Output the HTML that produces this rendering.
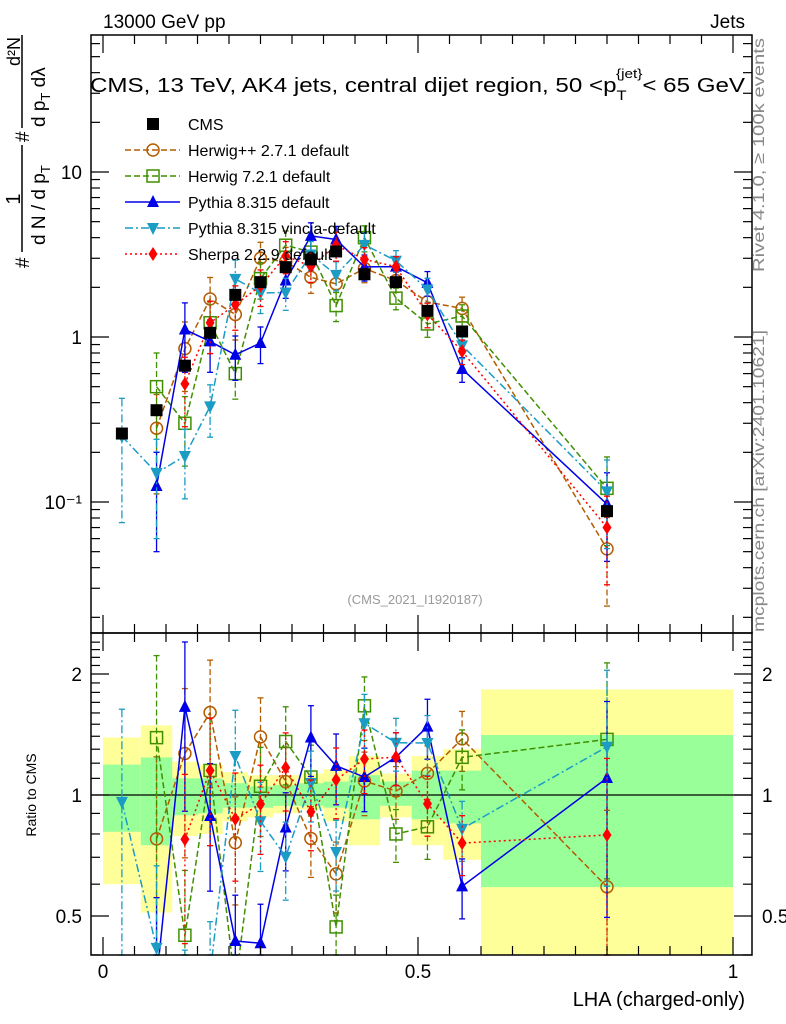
<!DOCTYPE html>
<html><head><meta charset="utf-8">
<style>
body{margin:0;background:#fff;}
svg{display:block;font-family:"Liberation Sans",sans-serif;}
</style></head>
<body>
<svg id="chart" width="786" height="1024" viewBox="0 0 786 1024">
<text x="103" y="28" font-size="19">13000 GeV pp</text>
<text x="745" y="28" font-size="19" text-anchor="end">Jets</text>
<g id="ratioBands"></g>
<g id="plot"></g>
<rect x="91" y="35" width="661" height="598" fill="none" stroke="#000" stroke-width="1.5"/>
<rect x="91" y="633" width="661" height="322" fill="none" stroke="#000" stroke-width="1.5"/>
<g id="axes"></g>
<text x="90" y="92" font-size="20.5" textLength="655" lengthAdjust="spacingAndGlyphs">CMS, 13 TeV, AK4 jets, central dijet region, 50 &lt;p<tspan font-size="14" dy="8">T</tspan><tspan font-size="13" dy="-22" dx="-9">{jet}</tspan><tspan dy="14">&lt; 65 GeV</tspan></text>
<text x="415" y="604" font-size="13" fill="#999" text-anchor="middle">(CMS_2021_I1920187)</text>
<text transform="translate(764,155) rotate(-90)" font-size="16" fill="#888" text-anchor="middle" textLength="234" lengthAdjust="spacingAndGlyphs">Rivet 4.1.0, ≥ 100k events</text>
<text transform="translate(764,481) rotate(-90)" font-size="16" fill="#888" text-anchor="middle" textLength="302" lengthAdjust="spacingAndGlyphs">mcplots.cern.ch [arXiv:2401.10621]</text>
<g transform="rotate(-90)">
<text x="-268" y="29" font-size="19">#</text>
<text x="-199" y="20" font-size="20" text-anchor="middle">1</text>
<line x1="-252" y1="22" x2="-145" y2="22" stroke="#000" stroke-width="1.5"/>
<text x="-245" y="45" font-size="19">d N / d p<tspan font-size="13" dy="5">T</tspan></text>
<text x="-142" y="29" font-size="19">#</text>
<text x="-66" y="20" font-size="18">d²N</text>
<line x1="-128" y1="22" x2="-35" y2="22" stroke="#000" stroke-width="1.5"/>
<text x="-127" y="45" font-size="19">d p<tspan font-size="13" dy="5">T</tspan><tspan dy="-5"> dλ</tspan></text>
</g>
<text transform="translate(36,795) rotate(-90)" font-size="14" text-anchor="middle">Ratio to CMS</text>
<text x="745" y="1006" font-size="20" text-anchor="end">LHA (charged-only)</text>
<g id="legend"></g>
</svg>
<script>
const xCenters=[0.03,0.085,0.13,0.17,0.21,0.25,0.29,0.33,0.37,0.415,0.465,0.515,0.57,0.8];
const binEdges=[0,0.06,0.11,0.15,0.19,0.23,0.27,0.31,0.35,0.39,0.44,0.49,0.54,0.6,1.0];
const cmsValues=[0.26,0.36,0.67,1.06,1.8,2.15,2.65,2.95,3.3,2.4,2.15,1.44,1.08,0.088];
const herwigppValues=[null,0.28,0.85,1.7,1.37,3.0,2.86,2.3,2.1,2.6,2.2,1.63,1.49,0.052];
const herwig7Values=[null,0.50,0.30,1.22,0.60,2.26,3.6,3.27,1.55,4.0,1.72,1.2,1.34,0.121];
const pythiaValues=[null,0.125,1.11,0.94,0.78,0.92,2.2,4.1,3.9,2.66,2.67,2.13,0.64,0.097];
const vinciaValues=[0.25,0.15,0.19,0.38,2.25,1.85,1.86,3.16,2.38,3.62,2.9,1.94,0.89,0.116];
const sherpaValues=[null,null,0.52,1.22,1.57,2.04,3.1,2.68,3.6,2.95,2.67,1.37,0.82,0.07];
const mcRelErr=[0.7,0.6,0.45,0.35,0.3,0.25,0.22,0.2,0.2,0.18,0.15,0.17,0.17,0.55];
const totUp=[1.39,1.49,1.21,1.19,1.14,1.12,1.12,1.13,1.16,1.25,1.13,1.25,1.30,1.83];
const totDn=[0.60,0.51,0.79,0.80,0.86,0.88,0.90,0.92,0.86,0.75,0.88,0.75,0.69,0.30];
const statUp=[1.19,1.24,1.10,1.10,1.07,1.05,1.06,1.07,1.08,1.12,1.08,1.15,1.15,1.41];
const statDn=[0.81,0.75,0.89,0.90,0.93,0.93,0.94,0.94,0.93,0.87,0.94,0.87,0.85,0.59];
const yTickLabels=["10⁻¹","1","10"];
const xTickLabels=["0","0.5","1"];
const ratioTickLabels=["0.5","1","2"];

const NS="http://www.w3.org/2000/svg";
const X0=103,XS=630;
const xs=v=>X0+v*XS;
const ym=v=>337-Math.log10(v)*165;
const yr=v=>795-Math.log10(v)*402;
const clampM=y=>Math.min(633,Math.max(35,y));
const clampR=y=>Math.min(955,Math.max(633,y));
function mk(tag,attrs,parent){const e=document.createElementNS(NS,tag);for(const k in attrs)e.setAttribute(k,attrs[k]);parent.appendChild(e);return e;}
const plot=document.getElementById('plot');
const bands=document.getElementById('ratioBands');
const axes=document.getElementById('axes');
const legend=document.getElementById('legend');

for(let i=0;i<xCenters.length;i++){
 const x1=xs(binEdges[i]),x2=xs(binEdges[i+1]);
 const y1=clampR(yr(totUp[i])),y2=clampR(yr(totDn[i]));
 const r=mk('rect',{x:x1,y:y1,width:x2-x1,height:y2-y1,fill:'#ffff99'},bands);
 
 
 const g1=clampR(yr(statUp[i])),g2=clampR(yr(statDn[i]));
 const r2=mk('rect',{x:x1,y:g1,width:x2-x1,height:g2-g1,fill:'#99ff99'},bands);
 
 
}
mk('line',{x1:91,x2:752,y1:yr(1),y2:yr(1),stroke:'#000','stroke-width':1.3},bands);

function marker(g,type,x,y,color){
 if(type==='square') return mk('rect',{x:x-6,y:y-6,width:12,height:12,fill:'#000'},g);
 if(type==='osquare') return mk('rect',{x:x-6,y:y-6,width:12,height:12,fill:'#fff','fill-opacity':0,stroke:color,'stroke-width':1.5},g);
 if(type==='circle') return mk('circle',{cx:x,cy:y,r:6,fill:'none',stroke:color,'stroke-width':1.5},g);
 if(type==='tri') return mk('polygon',{points:`${x},${y-7} ${x-6},${y+5} ${x+6},${y+5}`,fill:color},g);
 if(type==='itri') return mk('polygon',{points:`${x},${y+7} ${x-6},${y-5} ${x+6},${y-5}`,fill:color},g);
 if(type==='diamond') return mk('polygon',{points:`${x},${y-7} ${x-4.5},${y} ${x},${y+7} ${x+4.5},${y}`,fill:color},g);
}
const series=[
 {name:'herwigpp',vals:herwigppValues,color:'#b35c00',dash:'6,3',m:'circle',label:'Herwig++ 2.7.1 default'},
 {name:'herwig7',vals:herwig7Values,color:'#3f8f00',dash:'6,3',m:'osquare',label:'Herwig 7.2.1 default'},
 {name:'pythia',vals:pythiaValues,color:'#0000e6',dash:'',m:'tri',label:'Pythia 8.315 default'},
 {name:'vincia',vals:vinciaValues,color:'#1a9cc4',dash:'8,3,2,3',m:'itri',label:'Pythia 8.315 vincia-default'},
 {name:'sherpa',vals:sherpaValues,color:'#ff0000',dash:'2,3',m:'diamond',label:'Sherpa 2.2.9 default'}
];
function drawSeries(s,panel){
 const g=mk('g',{},plot);
 
 
 const yf=panel==='main'?(v=>ym(v)):(v=>yr(v));
 const cl=panel==='main'?clampM:clampR;
 const pts=[];
 s.vals.forEach((v,i)=>{
  if(v==null)return;
  const val=panel==='main'?v:v/cmsValues[i];
  const x=xs(xCenters[i]);
  const e=mcRelErr[i];
  const yt=cl(yf(val*(1+e))),yb=cl(yf(Math.max(val*(1-e),1e-6)));
  mk('line',{x1:x,x2:x,y1:yt,y2:yb,stroke:s.color,'stroke-width':1.3,'stroke-dasharray':s.dash},g);
  mk('line',{x1:x-3,x2:x+3,y1:yt,y2:yt,stroke:s.color,'stroke-width':1.3},g);
  mk('line',{x1:x-3,x2:x+3,y1:yb,y2:yb,stroke:s.color,'stroke-width':1.3},g);
  pts.push([x,yf(val),val]);
 });
 const clip=panel==='main'?'url(#clipMain)':'url(#clipRatio)';
 mk('polyline',{points:pts.map(p=>p[0]+','+p[1]).join(' '),fill:'none',stroke:s.color,'stroke-width':1.5,'stroke-dasharray':s.dash,'clip-path':clip},g);
 pts.forEach(p=>{if(p[1]>=(panel==='main'?30:628)&&p[1]<=(panel==='main'?633:960)){const m=marker(g,s.m,p[0],p[1],s.color);}});
}
const defs=mk('defs',{},document.getElementById('chart'));
const c1=mk('clipPath',{id:'clipMain'},defs);mk('rect',{x:91,y:35,width:661,height:598},c1);
const c2=mk('clipPath',{id:'clipRatio'},defs);mk('rect',{x:91,y:633,width:661,height:322},c2);
series.forEach(s=>{drawSeries(s,'main');drawSeries(s,'ratio');});
const cg=mk('g',{},plot);


cmsValues.forEach((v,i)=>{
 const x=xs(xCenters[i]),y=ym(v);
 const m=marker(cg,'square',x,y,'#000');
 
 
});

function tick(x1,y1,x2,y2){mk('line',{x1,y1,x2,y2,stroke:'#000','stroke-width':1.2},axes);}
for(let d=-2;d<=1;d++){for(let k=1;k<=9;k++){const v=k*Math.pow(10,d);const y=ym(v);if(y<35||y>633)continue;const L=k===1?18:9;tick(91,y,91+L,y);tick(752,y,752-L,y);}}
yTickLabels.forEach((t,i)=>{const y=ym(Math.pow(10,i-1));const tx=mk('text',{x:82,y:y+7,'font-size':19,'text-anchor':'end'},axes);tx.textContent=t;});
for(let v=0.4;v<=2.5;v+=0.1){const y=yr(v);if(y<633||y>955)continue;const major=Math.abs(v-0.5)<1e-6||Math.abs(v-1)<1e-6||Math.abs(v-2)<1e-6;const L=major?18:9;tick(91,y,91+L,y);tick(752,y,752-L,y);}
ratioTickLabels.forEach(t=>{const y=yr(parseFloat(t));const a=mk('text',{x:82,y:y+7,'font-size':19,'text-anchor':'end'},axes);a.textContent=t;const b=mk('text',{x:762,y:y+7,'font-size':19},axes);b.textContent=t;});
for(let v=0;v<=1.0001;v+=0.05){const x=xs(v);const major=Math.abs(v*2-Math.round(v*2))<1e-6;const L=major?18:9;tick(x,955,x,955-L);tick(x,633,x,633-L);tick(x,633,x,633+L);tick(x,35,x,35+L);}
xTickLabels.forEach((t,i)=>{const a=mk('text',{x:xs(i*0.5),y:978,'font-size':19,'text-anchor':'middle'},axes);a.textContent=t;});

const entries=[{m:'square',color:'#000',dash:'',label:'CMS',name:'cms'}].concat(series);
entries.forEach((s,i)=>{
 const y=124+i*26;
 const g=mk('g',{},legend);
 
 
 if(i>0)mk('line',{x1:125,x2:180,y1:y,y2:y,stroke:s.color,'stroke-width':1.5,'stroke-dasharray':s.dash},g);
 marker(g,s.m,153,y,s.color);
 const t=mk('text',{x:188,y:y+6,'font-size':16},g);t.textContent=s.label;
});
</script>
</body></html>
